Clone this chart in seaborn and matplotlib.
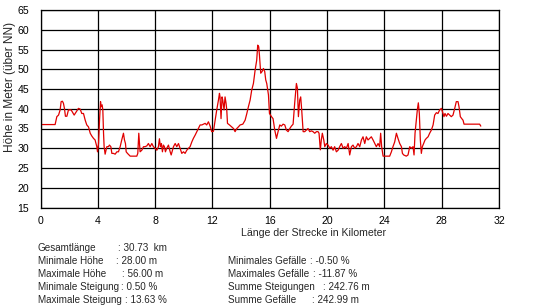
import matplotlib
matplotlib.use("Agg")
import matplotlib.pyplot as plt
import seaborn as sns
import pandas as pd

# Elevation profile (km along route, height in m above NN)
km = [0.0, 1.02, 1.14, 1.26, 1.37, 1.44, 1.53, 1.60, 1.67, 1.74, 1.84, 1.95, 2.14, 2.35, 2.49,
      2.65, 2.77, 2.88, 3.00, 3.12, 3.23, 3.35, 3.47, 3.58, 3.70, 3.81, 3.93, 3.98, 4.05, 4.12,
      4.19, 4.23, 4.30, 4.35, 4.40, 4.44, 4.51, 4.63, 4.74, 4.81, 4.91, 4.98, 5.09, 5.21, 5.33,
      5.44, 5.56, 5.67, 5.79, 5.86, 5.93, 5.98, 6.07, 6.26, 6.49, 6.72, 6.79, 6.86, 6.91, 6.95,
      7.07, 7.19, 7.30, 7.42, 7.53, 7.65, 7.77, 7.88, 8.00, 8.12, 8.23, 8.30, 8.37, 8.44, 8.51,
      8.58, 8.65, 8.72, 8.81, 8.93, 9.05, 9.12, 9.21, 9.28, 9.40, 9.51, 9.63, 9.74, 9.86, 9.98,
      10.09, 10.21, 10.33, 10.44, 10.56, 10.67, 10.79, 10.91, 11.02, 11.14, 11.26, 11.37, 11.49,
      11.60, 11.72, 11.84, 11.95, 12.07, 12.19, 12.30, 12.42, 12.49, 12.53, 12.60, 12.67, 12.72,
      12.81, 12.88, 12.95, 13.00, 13.05, 13.19, 13.35, 13.47, 13.58, 13.70, 13.81, 13.93, 14.12,
      14.28, 14.40, 14.51, 14.63, 14.74, 14.86, 14.98, 15.09, 15.16, 15.23, 15.28, 15.37, 15.46,
      15.56, 15.65, 15.72, 15.79, 15.91, 15.98, 16.12, 16.23, 16.35, 16.47, 16.58, 16.70, 16.81,
      16.93, 17.05, 17.16, 17.28, 17.40, 17.51, 17.63, 17.74, 17.86, 17.93, 18.00, 18.09, 18.16,
      18.23, 18.33, 18.44, 18.56, 18.67, 18.79, 18.91, 19.02, 19.14, 19.26, 19.37, 19.44, 19.53,
      19.60, 19.67, 19.77, 19.84, 19.95, 20.07, 20.19, 20.30, 20.42, 20.53, 20.65, 20.77, 20.88,
      21.00, 21.12, 21.23, 21.35, 21.47, 21.58, 21.70, 21.81, 21.93, 22.05, 22.16, 22.28, 22.40,
      22.51, 22.63, 22.74, 22.86, 22.98, 23.09, 23.21, 23.33, 23.44, 23.56, 23.67, 23.74, 23.81,
      23.91, 24.02, 24.14, 24.26, 24.37, 24.49, 24.60, 24.72, 24.84, 24.95, 25.07, 25.19, 25.26,
      25.35, 25.53, 25.65, 25.77, 25.88, 26.00, 26.07, 26.14, 26.23, 26.30, 26.37, 26.44, 26.51,
      26.58, 26.65, 26.74, 26.84, 26.93, 27.05, 27.16, 27.28, 27.40, 27.51, 27.63, 27.74, 27.86,
      27.98, 28.09, 28.16, 28.23, 28.33, 28.44, 28.56, 28.67, 28.79, 28.91, 29.02, 29.14, 29.21,
      29.30, 29.40, 29.49, 29.56, 29.72, 30.65, 30.73]
hoehe = [36.0, 36.0, 38.0, 38.4, 39.7, 41.8, 41.9, 41.4, 40.1, 38.1, 38.1, 39.7, 39.7, 38.4, 39.2,
         40.1, 39.9, 38.8, 38.8, 37.1, 35.9, 35.4, 33.8, 33.1, 32.5, 32.1, 30.4, 29.1, 31.2, 37.1,
         41.8, 40.5, 41.0, 39.7, 33.8, 30.4, 28.5, 30.4, 30.4, 30.8, 30.4, 28.7, 28.7, 28.5, 29.1,
         29.1, 30.4, 32.1, 33.8, 32.1, 31.2, 29.1, 28.7, 28.0, 28.0, 28.0, 28.7, 33.8, 31.2, 29.1,
         29.5, 30.4, 30.4, 30.6, 31.2, 30.4, 31.2, 30.4, 30.0, 29.5, 30.4, 32.4, 30.4, 31.2, 29.1,
         30.8, 30.4, 29.1, 30.0, 30.8, 29.1, 28.3, 29.5, 30.4, 31.2, 30.4, 31.2, 30.0, 28.7, 29.1,
         28.7, 29.5, 30.0, 30.4, 31.6, 32.5, 33.3, 34.2, 35.0, 35.9, 35.9, 36.1, 36.3, 35.9, 36.7,
         35.6, 34.2, 34.3, 37.1, 39.7, 42.2, 43.9, 43.0, 37.5, 43.0, 42.2, 39.7, 43.0, 41.4, 39.7,
         36.3, 35.9, 35.4, 35.0, 34.2, 35.0, 35.4, 35.9, 36.1, 37.1, 38.8, 40.5, 42.2, 44.7, 46.4,
         49.8, 52.3, 56.1, 55.7, 53.6, 49.0, 49.4, 50.2, 49.4, 47.3, 46.4, 43.5, 38.8, 38.0, 37.5,
         34.6, 32.5, 34.2, 35.9, 35.6, 36.1, 35.9, 34.6, 34.2, 35.0, 35.6, 36.1, 41.4, 46.4, 45.2,
         38.0, 42.2, 43.0, 39.7, 34.2, 34.2, 34.6, 35.0, 34.2, 34.4, 34.2, 33.8, 34.2, 34.2, 33.8,
         29.6, 32.1, 33.8, 32.1, 30.4, 31.2, 30.8, 30.0, 30.4, 29.5, 30.4, 29.1, 29.5, 30.4, 31.2,
         30.0, 30.4, 30.0, 31.2, 28.3, 30.4, 30.8, 30.0, 30.4, 31.2, 30.4, 32.1, 32.9, 31.2, 32.9,
         32.1, 32.5, 32.9, 32.1, 31.2, 30.4, 31.2, 30.4, 33.8, 30.4, 28.0, 28.0, 28.0, 28.0, 28.0,
         29.1, 30.4, 31.6, 33.8, 32.5, 31.2, 30.4, 28.7, 28.3, 28.0, 28.3, 30.4, 30.0, 30.4, 28.3,
         33.8, 37.1, 39.7, 41.5, 38.8, 32.1, 28.7, 30.4, 31.2, 32.1, 32.5, 32.9, 33.8, 34.6, 35.9,
         38.4, 39.0, 38.8, 39.7, 40.1, 38.8, 38.0, 38.8, 38.1, 38.8, 38.4, 38.0, 38.4, 40.1, 41.8,
         41.8, 40.5, 38.0, 37.5, 37.1, 36.1, 36.1, 36.1, 35.6]

x_ticks = [0, 4, 8, 12, 16, 20, 24, 28, 32]
y_ticks = [15, 20, 25, 30, 35, 40, 45, 50, 55, 60, 65]

stats_left = [("Gesamtlänge", ": 30.73  km"),
              ("Minimale Höhe", ": 28.00 m"),
              ("Maximale Höhe", ": 56.00 m"),
              ("Minimale Steigung", ": 0.50 %"),
              ("Maximale Steigung", ": 13.63 %")]
stats_right = [("Minimales Gefälle", ": -0.50 %"),
               ("Maximales Gefälle", ": -11.87 %"),
               ("Summe Steigungen", ": 242.76 m"),
               ("Summe Gefälle", ": 242.99 m")]

sns.set_style("white")
plt.rcParams["font.family"] = ["Liberation Sans", "DejaVu Sans"]
plt.rcParams["font.size"] = 8

W, H = 549, 308
fig = plt.figure(figsize=(W / 100, H / 100), dpi=100)
fig.patch.set_facecolor("white")
ax = fig.add_axes([40.5 / W, 1 - 207.5 / H, 458.5 / W, 197.5 / H])

df = pd.DataFrame({"km": km, "hoehe": hoehe})
sns.lineplot(data=df, x="km", y="hoehe", ax=ax, color="#e00000", linewidth=0.9,
             sort=False, estimator=None)

ax.set_xlim(0, 32)
ax.set_ylim(15, 65)
ax.set_xticks(x_ticks)
ax.set_yticks(y_ticks)
ax.set_xticklabels([str(t) for t in x_ticks])
ax.set_yticklabels([str(t) for t in y_ticks])
ax.tick_params(axis="both", length=0, labelsize=7.6, colors="black")
ax.tick_params(axis="y", pad=8)
ax.tick_params(axis="x", pad=6)
ax.grid(True, color="black", linewidth=0.9)
ax.set_axisbelow(True)
for s in ax.spines.values():
    s.set_color("black")
    s.set_linewidth(0.9)
ax.set_xlabel("")
ax.set_ylabel("")

fig.text(10 / W, 1 - 87 / H, "Höhe in Meter (über NN)", rotation=90,
         ha="center", va="center", fontsize=8.6)
fig.text(314 / W, 1 - 233 / H, "Länge der Strecke in Kilometer",
         ha="center", va="center", fontsize=7.6)

fs = 7.1
left_colon_x = [118.3, 116.3, 121.7, 121.0, 125.0]
for i, (lab, val) in enumerate(stats_left):
    y = 1 - (248.3 + 13 * i) / H
    fig.text(38 / W, y, lab, ha="left", va="center", fontsize=fs)
    fig.text(left_colon_x[i] / W, y, val, ha="left", va="center", fontsize=fs)

right_colon_x = [310.0, 313.0, 322.7, 311.7]
for i, (lab, val) in enumerate(stats_right):
    y = 1 - (261.3 + 13 * i) / H
    fig.text(228 / W, y, lab, ha="left", va="center", fontsize=fs)
    fig.text(right_colon_x[i] / W, y, val, ha="left", va="center", fontsize=fs)

fig.savefig("out.png", dpi=100)
